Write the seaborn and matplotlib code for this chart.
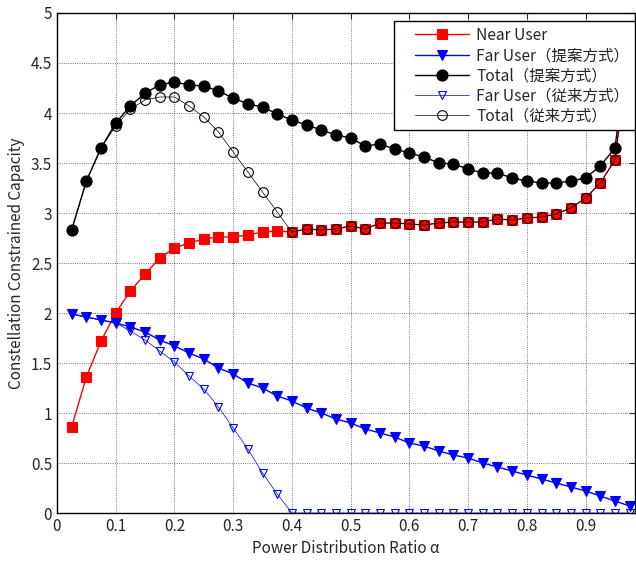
import matplotlib
matplotlib.use("Agg")
import matplotlib.pyplot as plt
from matplotlib.lines import Line2D
from matplotlib.legend_handler import HandlerLine2D
import seaborn as sns
import pandas as pd

# power distribution ratio (x axis)
alpha = [0.025, 0.05, 0.075, 0.1, 0.125, 0.15, 0.175, 0.2, 0.225, 0.25,
         0.275, 0.3, 0.325, 0.35, 0.375, 0.4, 0.425, 0.45, 0.475, 0.5,
         0.525, 0.55, 0.575, 0.6, 0.625, 0.65, 0.675, 0.7, 0.725, 0.75,
         0.775, 0.8, 0.825, 0.85, 0.875, 0.9, 0.925, 0.95, 0.975]

near_user = [0.86, 1.36, 1.72, 2.00, 2.22, 2.39, 2.55, 2.65, 2.70, 2.74,
             2.76, 2.76, 2.78, 2.81, 2.82, 2.81, 2.84, 2.83, 2.84, 2.87,
             2.84, 2.90, 2.90, 2.89, 2.88, 2.90, 2.91, 2.91, 2.91, 2.94,
             2.93, 2.95, 2.96, 2.99, 3.05, 3.15, 3.30, 3.53, 4.70]

far_user_prop = [1.99, 1.96, 1.93, 1.90, 1.86, 1.81, 1.73, 1.67, 1.60, 1.54,
                 1.45, 1.39, 1.30, 1.25, 1.17, 1.12, 1.05, 1.00, 0.94, 0.90,
                 0.84, 0.80, 0.76, 0.70, 0.67, 0.62, 0.58, 0.55, 0.50, 0.46,
                 0.42, 0.38, 0.34, 0.30, 0.26, 0.22, 0.17, 0.12, 0.07]

total_prop = [2.83, 3.32, 3.65, 3.90, 4.07, 4.20, 4.28, 4.31, 4.28, 4.27,
              4.22, 4.15, 4.09, 4.06, 3.99, 3.93, 3.88, 3.83, 3.78, 3.75,
              3.67, 3.69, 3.64, 3.60, 3.56, 3.50, 3.49, 3.44, 3.40, 3.40,
              3.35, 3.32, 3.30, 3.30, 3.32, 3.35, 3.47, 3.65, 4.77]

far_user_conv = [1.99, 1.96, 1.93, 1.90, 1.82, 1.73, 1.62, 1.51, 1.37, 1.24,
                 1.06, 0.85, 0.64, 0.40, 0.19, 0.0, 0.0, 0.0, 0.0, 0.0,
                 0.0, 0.0, 0.0, 0.0, 0.0, 0.0, 0.0, 0.0, 0.0, 0.0,
                 0.0, 0.0, 0.0, 0.0, 0.0, 0.0, 0.0, 0.0, 0.0]

total_conv = [2.83, 3.32, 3.65, 3.87, 4.04, 4.13, 4.16, 4.16, 4.07, 3.96,
              3.81, 3.61, 3.41, 3.21, 3.01, 2.81, 2.84, 2.83, 2.84, 2.87,
              2.84, 2.90, 2.90, 2.89, 2.88, 2.90, 2.91, 2.91, 2.91, 2.94,
              2.93, 2.95, 2.96, 2.99, 3.05, 3.15, 3.30, 3.53, 4.70]

x_ticks = [0, 0.1, 0.2, 0.3, 0.4, 0.5, 0.6, 0.7, 0.8, 0.9]
x_tick_labels = ["0", "0.1", "0.2", "0.3", "0.4", "0.5", "0.6", "0.7", "0.8", "0.9"]
y_ticks = [0, 0.5, 1, 1.5, 2, 2.5, 3, 3.5, 4, 4.5, 5]
y_tick_labels = ["0", "0.5", "1", "1.5", "2", "2.5", "3", "3.5", "4", "4.5", "5"]

sns.set_style("white")
plt.rcParams['font.family'] = ['Noto Sans CJK JP', 'DejaVu Sans']

df = pd.DataFrame({'alpha': alpha, 'near': near_user, 'far_prop': far_user_prop,
                   'total_prop': total_prop, 'far_conv': far_user_conv,
                   'total_conv': total_conv})

fig = plt.figure(figsize=(6.36, 5.65), dpi=100)
ax = fig.add_axes([0.0896, 0.092, 0.9096, 0.885])

# series style: (column, label, color, marker, size, filled, line width)
series = [
    ('near', 'Near User', 'red', 's', 7, True, 1.0),
    ('far_prop', 'Far User（提案方式）', 'blue', 'v', 7, True, 1.0),
    ('total_prop', 'Total（提案方式）', 'black', 'o', 8, True, 1.0),
    ('far_conv', 'Far User（従来方式）', 'blue', 'v', 6, False, 0.5),
    ('total_conv', 'Total（従来方式）', 'black', 'o', 7, False, 0.5),
]

for col, label, color, marker, ms, filled, lw in series:
    sns.lineplot(data=df, x='alpha', y=col, ax=ax, label=label, color=color,
                 marker=marker, markersize=ms, linewidth=lw,
                 markerfacecolor=color if filled else 'none',
                 markeredgecolor=color, markeredgewidth=0.8)

ax.set_xlim(0, 0.985)
ax.set_ylim(0, 5)
ax.set_xticks(x_ticks)
ax.set_xticklabels(x_tick_labels)
ax.set_yticks(y_ticks)
ax.set_yticklabels(y_tick_labels)
ax.tick_params(direction='in', top=True, right=True, labelsize=11, length=4)
ax.grid(True, linestyle=':', color='black', linewidth=0.6, alpha=0.7)
for sp in ax.spines.values():
    sp.set_color('black')
    sp.set_linewidth(1.0)

ax.set_xlabel("Power Distribution Ratio α", fontsize=11)
ax.set_ylabel("Constellation Constrained Capacity", fontsize=11)

leg = ax.legend(loc='upper right', bbox_to_anchor=(0.9985, 0.983), borderaxespad=0,
                fancybox=False, edgecolor='black', framealpha=1, fontsize=11.2,
                handlelength=4.5, handletextpad=0.45, labelspacing=0.2,
                borderpad=0.35,
                handler_map={Line2D: HandlerLine2D(xpad=1.0)})
leg.get_frame().set_linewidth(1.0)

fig.savefig("out.png", dpi=100)
